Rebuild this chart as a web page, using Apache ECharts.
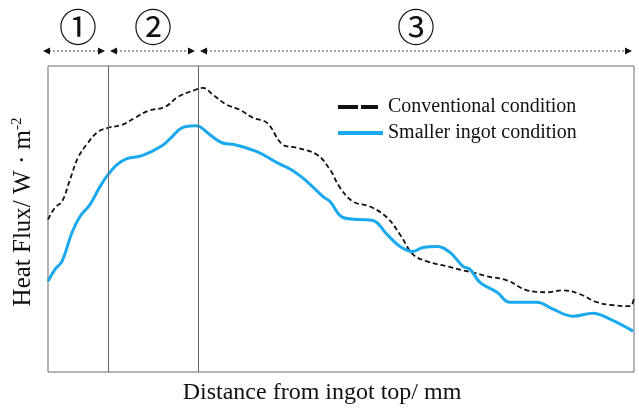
<!DOCTYPE html>
<html><head><meta charset="utf-8">
<script src="https://cdn.jsdelivr.net/npm/echarts@6/dist/echarts.min.js"></script>
<style>html,body{margin:0;padding:0;background:#fff}#c{width:639px;height:410px}</style>
</head><body><div id="c"></div>
<script>
// Distance from ingot top (arbitrary units) and heat flux (arbitrary units)
var conventionalX = [0,7,14,22,30,40,50,60,74,87,100,117,130,147,155,165,179,192,205,219,235,249,269,282,292,305,322,339,352,365,379,399,415,432,439,459,479,499,515,532,549,565,582,586];
var conventionalY = [153,165,171,193,215,230,241,245,248,255,262,266,276,283,285,278,268,263,255,250,228,225,218,203,185,171,166,155,138,118,111,106,102,98,96,92,82,80,82,78,70,67,66,75];
var smallerX = [0,7,14,24,32,42,52,60,69,79,94,114,124,134,147,152,162,174,187,209,229,245,259,275,282,295,312,325,339,352,365,375,389,402,415,422,432,449,462,489,505,525,545,562,585];
var smallerY = [91,103,111,140,156,168,186,198,208,214,217,227,236,245,247,246,238,230,228,221,210,202,191,176,171,155,153,152,138,126,121,125,126,120,106,103,90,80,70,70,63,56,59,53,41];
var stageBounds = [0,60,150,586];
var stageLabels = ['①','②','③'];
var seriesNames = ['Conventional condition','Smaller ingot condition'];

function pairs(xs, ys){ return xs.map(function(x,i){return [x, ys[i]];}); }

var chart = echarts.init(document.getElementById('c'));
var serif = '"Liberation Serif","Times New Roman",serif';
chart.setOption({
  animation:false,
  grid:{left:48,right:5,top:66,bottom:37,show:true,borderColor:'#6a6a6a',borderWidth:1,containLabel:false},
  legend:{
    orient:'vertical', left:333, top:92, itemWidth:45, itemHeight:4, itemGap:6,
    symbolKeepAspect:false,
    textStyle:{fontFamily:serif,fontSize:20,color:'#111'},
    data:[
      {name:seriesNames[0],icon:'path://M0,0H20V4H0Z M23,0H40V4H23Z M45,0V4'},
      {name:seriesNames[1],icon:'path://M0,0H45V4H0Z'}
    ]
  },
  xAxis:{type:'value',min:0,max:586,
    name:'Distance from ingot top/ mm',nameLocation:'middle',nameGap:9,
    nameTextStyle:{fontFamily:serif,fontSize:24,color:'#111',verticalAlign:'top',padding:[0,38,0,0]},
    axisLine:{show:false},axisTick:{show:false},axisLabel:{show:false},splitLine:{show:false}},
  yAxis:{type:'value',min:0,max:307,
    name:'{a|Heat Flux/ W · m}{s|-2}',nameLocation:'middle',nameGap:11,nameRotate:90,
    nameTextStyle:{padding:[0,0,0,14],rich:{a:{fontFamily:serif,fontSize:25,color:'#111'},s:{fontFamily:serif,fontSize:15,color:'#111',verticalAlign:'top',padding:[0,0,12,0]}}},
    axisLine:{show:false},axisTick:{show:false},axisLabel:{show:false},splitLine:{show:false}},
  series:[
    {name:seriesNames[0],type:'line',data:pairs(conventionalX,conventionalY),smooth:0.4,symbol:'none',
     lineStyle:{color:'#111',width:1.8,type:[5,3]},itemStyle:{color:'#111'},
     markLine:{silent:true,symbol:'none',label:{show:false},lineStyle:{color:'#666',width:1,type:'solid'},
       data:[{xAxis:stageBounds[1]},{xAxis:stageBounds[2]}]}},
    {name:seriesNames[1],type:'line',data:pairs(smallerX,smallerY),smooth:0.4,symbol:'none',
     lineStyle:{color:'#1aa9ee',width:3},itemStyle:{color:'#1aa9ee'}}
  ]
});

// stage arrows and circled labels above the plot
var g = [];
var yArrow = 51;
function px(v){ return chart.convertToPixel({gridIndex:0},[v,0])[0]; }
for (var i=0;i<stageLabels.length;i++){
  var x0 = px(stageBounds[i]) + (i===0 ? -5 : 2);
  var x1 = px(stageBounds[i+1]) - (i===stageLabels.length-1 ? 2 : 3);
  g.push({type:'line',shape:{x1:x0+6,y1:yArrow,x2:x1-6,y2:yArrow},style:{stroke:'#444',lineWidth:1,lineDash:[2,2]}});
  g.push({type:'polygon',shape:{points:[[x0,yArrow],[x0+7,yArrow-3.5],[x0+7,yArrow+3.5]]},style:{fill:'#111'}});
  g.push({type:'polygon',shape:{points:[[x1,yArrow],[x1-7,yArrow-3.5],[x1-7,yArrow+3.5]]},style:{fill:'#111'}});
  var cx = (px(stageBounds[i]) + px(stageBounds[i+1]))/2;
  g.push({type:'text',x:cx,y:27,style:{text:stageLabels[i],fontFamily:'"Noto Sans CJK JP"',fontSize:38,fill:'#111',align:'center',verticalAlign:'middle'}});
}
chart.setOption({graphic:g});
</script></body></html>
